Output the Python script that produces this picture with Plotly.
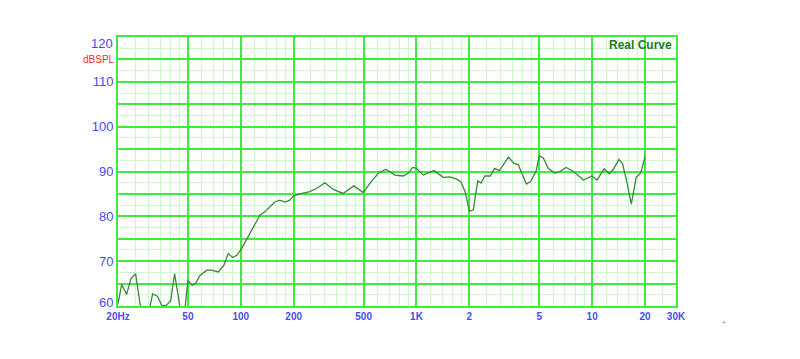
import math
import plotly.graph_objects as go

# ---- data ----
freq_hz = [20, 21, 22.4, 23.7, 25.2, 27.5, 29.3, 31.5, 33.5, 35.7, 37.8, 39.9, 42, 44, 46, 47.5,
           50, 52.9, 55.4, 58.6, 64, 68.2, 74.4, 80.2, 84.8, 89.9, 94.8, 101, 110, 120.6, 128.7,
           137, 146.6, 156, 167, 178.5, 190, 199, 217, 247, 270, 301, 336, 382, 440, 498, 544,
           606, 670, 754, 840, 896, 952, 1000, 1092, 1165, 1258, 1420, 1553, 1690, 1788, 1890,
           2000, 2105, 2232, 2330, 2450, 2630, 2780, 2965, 3338, 3590, 3800, 4220, 4450, 4790,
           5000, 5270, 5620, 6140, 6560, 7110, 7820, 8920, 9970, 10650, 11700, 12500, 13200,
           14200, 14900, 15800, 16700, 17800, 18900, 20000]
spl_db = [60.5, 64.8, 62.6, 66.1, 67.2, 57, 57, 62.7, 62.2, 60.0, 60.2, 61.2, 67.2, 62.7, 57.5, 57.5,
          65.7, 64.6, 65.1, 66.8, 68, 68, 67.6, 69.1, 71.7, 70.8, 71.3, 72.8, 75.4, 78.4, 80.3,
          81, 82.1, 83.2, 83.6, 83.2, 83.6, 84.5, 85, 85.5, 86.2, 87.5, 86, 85.1, 86.8, 85.3, 87.4,
          89.6, 90.5, 89.2, 89, 89.6, 90.9, 90.7, 89.2, 89.6, 90.2, 88.7, 88.8, 88.3, 87.7, 85.5,
          81.2, 81.4, 87.9, 87.4, 89, 89, 90.7, 90.2, 93.2, 91.8, 91.5, 87.2, 87.7, 90,
          93.5, 93, 90.7, 89.6, 90, 90.9, 90, 88.1, 89, 88.1, 90.6, 89.5, 90.5,
          92.7, 91.7, 87.4, 82.7, 88.7, 89.7, 93.3]

x_tick_vals = [20, 50, 100, 200, 500, 1000, 2000, 5000, 10000, 20000, 30000]
x_tick_text = ["20Hz", "50", "100", "200", "500", "1K", "2", "5", "10", "20", "30K"]
x_minor_vals = [25, 30, 35, 40, 45, 60, 70, 80, 90,
                120, 140, 160, 180, 250, 300, 350, 400, 450, 600, 700, 800, 900,
                1200, 1400, 1600, 1800, 2500, 3000, 3500, 4000, 4500, 6000, 7000, 8000, 9000,
                12000, 14000, 16000, 18000, 25000]
y_tick_vals = [60, 65, 70, 75, 80, 85, 90, 95, 100, 105, 110, 115, 120]
y_tick_text = ["", "", "70", "", "80", "", "90", "", "100", "", "110", "", ""]
y_edge_vals = [120, 60]          # edge labels drawn nudged inward, as in the reference
y_edge_text = ["120", "60"]
y_minor_vals = [62.5, 67.5, 72.5, 77.5, 82.5, 87.5, 92.5, 97.5, 102.5, 107.5, 112.5, 117.5]

assert len(freq_hz) == len(spl_db)

MAJOR = "#3dec3d"
MINOR = "#cdf7cd"
BLUE = "#4a4af5"

fig = go.Figure()
fig.add_trace(go.Scatter(x=freq_hz, y=spl_db, mode="lines",
                         line=dict(color="#3a873a", width=1.3), hoverinfo="skip"))

annotations = [
    dict(text="dBSPL", xref="paper", x=0, xanchor="right", xshift=-1,
         yref="y", y=115, yanchor="middle", showarrow=False,
         font=dict(size=10, color="#ff2a2a")),
    dict(text="Real Curve", xref="paper", x=1, xanchor="right", xshift=-2,
         yref="y", y=118.3, yanchor="middle", showarrow=False,
         font=dict(size=12, color="#1f7a1f", weight="bold")),
    dict(text="+", xref="paper", x=1.093, yref="paper", y=-0.082,
         showarrow=False, font=dict(size=7, color="#999999")),
]
for v, t in zip(y_edge_vals, y_edge_text):
    annotations.append(dict(text=t, xref="paper", x=0, xanchor="right", xshift=-3,
                            yref="y", y=v, yanchor="middle",
                            yshift=-6 if v == max(y_edge_vals) else 4,
                            showarrow=False, font=dict(size=13, color=BLUE)))

fig.update_layout(
    width=800, height=359,
    margin=dict(l=118, r=124, t=37, b=53),
    paper_bgcolor="white", plot_bgcolor="white",
    showlegend=False,
    font=dict(family="Liberation Sans, Arial, sans-serif"),
    xaxis=dict(type="log", range=[math.log10(20), math.log10(30000)],
               tickmode="array", tickvals=x_tick_vals, ticktext=x_tick_text,
               tickfont=dict(size=10, color=BLUE, weight="bold"),
               ticks="", showgrid=True, gridcolor=MAJOR, gridwidth=2,
               showline=True, linecolor=MAJOR, linewidth=2, mirror=True,
               zeroline=False, fixedrange=True,
               minor=dict(tickmode="array", tickvals=x_minor_vals, showgrid=True,
                          gridcolor=MINOR, gridwidth=1, ticks="")),
    yaxis=dict(range=[60, 120], tickmode="array", tickvals=y_tick_vals, ticktext=y_tick_text,
               tickfont=dict(size=13, color=BLUE),
               ticks="", showgrid=True, gridcolor=MAJOR, gridwidth=2,
               showline=True, linecolor=MAJOR, linewidth=2, mirror=True,
               zeroline=False, fixedrange=True,
               minor=dict(tickmode="array", tickvals=y_minor_vals, showgrid=True,
                          gridcolor=MINOR, gridwidth=1, ticks="")),
    annotations=annotations,
)

fig.write_html("out.html")
